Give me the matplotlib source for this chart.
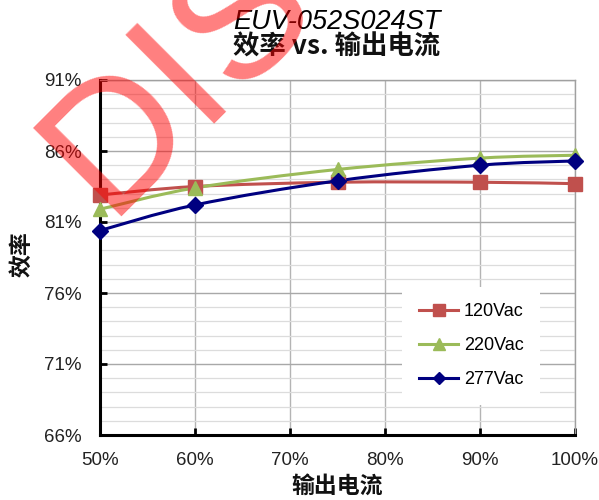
import numpy as np
import matplotlib
matplotlib.use("Agg")
import matplotlib.pyplot as plt
from matplotlib.path import Path
from matplotlib.patches import PathPatch
from matplotlib.lines import Line2D

# ---------------------------------------------------------------------------
# Data
# ---------------------------------------------------------------------------
load_pct = [50, 60, 75, 90, 100]
eff_120 = [82.9, 83.5, 83.8, 83.8, 83.7]
eff_220 = [81.9, 83.4, 84.7, 85.5, 85.7]
eff_277 = [80.4, 82.2, 83.9, 85.0, 85.3]

series_names = ["120Vac", "220Vac", "277Vac"]
x_ticks = [50, 60, 70, 80, 90, 100]
y_ticks = [66, 71, 76, 81, 86, 91]

plt.rcParams['font.family'] = ['Liberation Sans', 'Noto Sans CJK SC', 'DejaVu Sans']
cjk = ['Noto Sans CJK SC', 'Liberation Sans']


def smooth_path(xs, ys):
    # Catmull-Rom style bezier through the points (like Excel smoothed lines)
    p = np.column_stack([xs, ys]).astype(float)
    n = len(p)
    verts = [p[0]]
    codes = [Path.MOVETO]
    for i in range(n - 1):
        p0 = p[i - 1] if i > 0 else p[i]
        p3 = p[i + 2] if i + 2 < n else p[i + 1]
        c1 = p[i] + (p[i + 1] - p0) / 6.0
        c2 = p[i + 1] - (p3 - p[i]) / 6.0
        verts += [c1, c2, p[i + 1]]
        codes += [Path.CURVE4] * 3
    return Path(verts, codes)


fig = plt.figure(figsize=(5.99, 5.0), dpi=100, facecolor='w')
ax = fig.add_axes([100 / 599, 65 / 500, 475 / 599, 355 / 500])

# grid
ax.set_xlim(50, 100)
ax.set_ylim(66, 91)
ax.set_yticks(y_ticks)
ax.set_yticks(np.arange(66, 92, 1), minor=True)
ax.set_xticks(x_ticks)
ax.grid(which='minor', axis='y', color='#dcdcdc', lw=0.9)
ax.grid(which='major', axis='y', color='#a8a8a8', lw=1.0)
ax.grid(which='major', axis='x', color='#b4b4b4', lw=1.0)
ax.set_axisbelow(True)

ax.set_xticklabels([f"{v}%" for v in x_ticks], fontsize=13.5, color='#222222')
ax.set_yticklabels([f"{v}%" for v in y_ticks], fontsize=13.5, color='#222222')
ax.tick_params(which='major', direction='in', length=5, width=2, color='black',
               top=False, right=False)
ax.tick_params(axis='x', which='major', pad=12)
ax.tick_params(axis='y', which='major', pad=13)
ax.tick_params(which='minor', length=0)

for s in ['left', 'bottom']:
    ax.spines[s].set_linewidth(2.2)
    ax.spines[s].set_color('black')
for s in ['top', 'right']:
    ax.spines[s].set_linewidth(1.0)
    ax.spines[s].set_color('#a0a0a0')

styles = [
    ('#C0504D', 's', 10),
    ('#9BBB59', '^', 10),
    ('#000080', 'D', 8),
]
handles = []
for name, ys, (col, mk, ms) in zip(series_names, [eff_120, eff_220, eff_277], styles):
    ax.add_patch(PathPatch(smooth_path(load_pct, ys), facecolor='none',
                           edgecolor=col, lw=2.2, zorder=3, clip_on=False))
    ax.plot(load_pct, ys, linestyle='none', marker=mk, ms=ms, color=col,
            zorder=4, clip_on=False)
    handles.append(Line2D([], [], color=col, lw=2.2, marker=mk, ms=ms * 0.8))

leg = ax.legend(handles, series_names, loc='lower right',
                bbox_to_anchor=(0.945, 0.06), fontsize=13, frameon=True,
                framealpha=1, facecolor='white', edgecolor='none',
                handlelength=2.2, handletextpad=0.3, labelspacing=0.95,
                borderpad=0.9)
leg.get_frame().set_boxstyle('square', pad=0)

# titles and axis labels
fig.text(337 / 599, 1 - 22 / 500, "EUV-052S024ST", ha='center', va='center',
         fontsize=19.5, style='italic', family='Liberation Sans')
fig.text(337 / 599, 1 - 47 / 500, "效率 vs. 输出电流", ha='center', va='center',
         fontsize=19, weight='bold', family=cjk, color='#111111')
fig.text(337 / 599, 1 - 486 / 500, "输出电流", ha='center', va='center',
         fontsize=16.5, weight='bold', family=cjk, color='#111111')
fig.text(22 / 599, 1 - 254 / 500, "效率", ha='center', va='center', rotation=90,
         fontsize=16.5, weight='bold', family=cjk, color='#111111')

# red watermark across the top-left corner
fig.text(107 / 599, 1 - 217 / 500, "DIS", ha='left', va='baseline',
         rotation=45, rotation_mode='anchor', fontsize=130, color='red',
         alpha=0.5, family='Liberation Sans', zorder=10)

fig.savefig('out.png', dpi=100, facecolor='w')
